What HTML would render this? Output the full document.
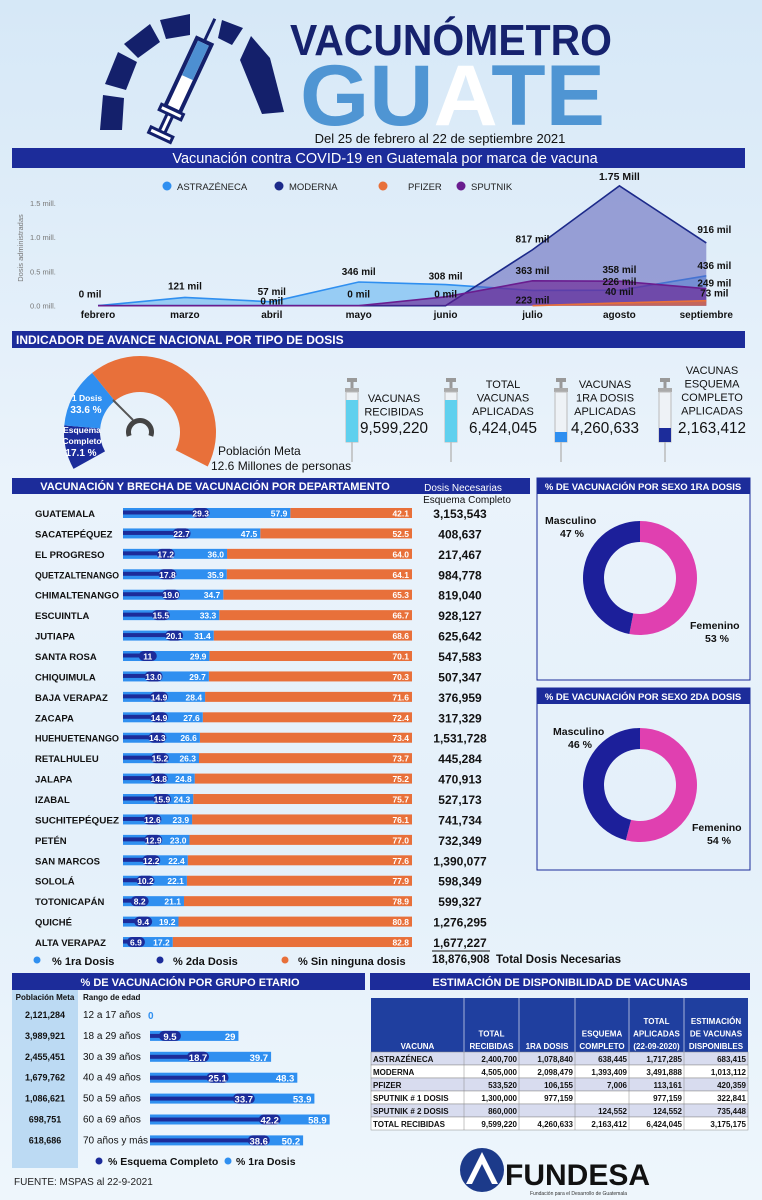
<!DOCTYPE html>
<html><head><meta charset="utf-8">
<style>
html,body{margin:0;padding:0;}
body{width:762px;height:1200px;overflow:hidden;background:linear-gradient(180deg,#d6e8f7 0%,#eaf3fb 40%,#e4f0fa 70%,#eef6fc 100%);font-family:"Liberation Sans",sans-serif;}
svg{display:block;}
svg text{font-family:"Liberation Sans",sans-serif;}
</style></head>
<body>
<svg id="main" width="762" height="1200" viewBox="0 0 762 1200" xmlns="http://www.w3.org/2000/svg">
<g>
  <g fill="#14206b">
    <path d="M100,130 L103,95 L124,98 L122,130 Z"/>
    <path d="M105,84 L118,52 L137,62 L126,90 Z"/>
    <path d="M124,44 L150,24 L160,42 L138,58 Z"/>
    <path d="M160,20 L190,14 L190,35 L166,39 Z"/>
    <path d="M222,20 L243,28 L232,45 L218,38 Z"/>
    <path d="M251,36 L270,58 L284,112 L262,114 L240,60 Z"/>
  </g>
  <g transform="translate(162,132) rotate(25)">
    <rect x="-8" y="-100" width="16" height="75" fill="#fff" stroke="#14206b" stroke-width="4"/>
    <rect x="-6" y="-98" width="12" height="38" fill="#4d8fd1"/>
    <rect x="-12" y="-25" width="24" height="6" fill="#fff" stroke="#14206b" stroke-width="3"/>
    <rect x="-3" y="-19" width="6" height="20" fill="#fff" stroke="#14206b" stroke-width="3"/>
    <rect x="-12" y="0" width="24" height="6" fill="#fff" stroke="#14206b" stroke-width="3"/>
    <line x1="0" y1="-100" x2="0" y2="-125" stroke="#14206b" stroke-width="3"/>
  </g>
</g>
<text x="290" y="55" font-size="44" font-weight="bold" fill="#16226e" textLength="322" lengthAdjust="spacingAndGlyphs">VACUNÓMETRO</text>
<text x="300" y="125" font-size="86" font-weight="bold" textLength="305" lengthAdjust="spacingAndGlyphs"><tspan fill="#4f95d3">GU</tspan><tspan fill="#ffffff">A</tspan><tspan fill="#4f95d3">TE</tspan></text>
<text x="440" y="143" font-size="13" text-anchor="middle" fill="#111">Del 25 de febrero al 22 de septiembre 2021</text>
<rect x="12" y="148" width="733" height="20" fill="#1c2c9a"/>
<text x="385" y="163" font-size="14.5" fill="#fff" text-anchor="middle">Vacunación contra COVID-19 en Guatemala por marca de vacuna</text>

<g id="areaChart"></g>

<rect x="12" y="331" width="733" height="17" fill="#1c2c9a"/>
<text x="16" y="344" font-size="12" font-weight="bold" fill="#fff">INDICADOR DE AVANCE NACIONAL POR TIPO DE DOSIS</text>
<g id="gauge"></g>
<text x="218" y="455" font-size="12" fill="#111">Población Meta</text>
<text x="211" y="470" font-size="12" fill="#111">12.6 Millones de personas</text>
<g id="kpis"></g>

<rect x="12" y="478" width="518" height="16" fill="#1c2c9a"/>
<text x="215" y="490" font-size="11" font-weight="bold" fill="#fff" text-anchor="middle">VACUNACIÓN Y BRECHA DE VACUNACIÓN POR DEPARTAMENTO</text>
<text x="463" y="491" font-size="10" fill="#fff" text-anchor="middle">Dosis Necesarias</text>
<text x="467" y="503" font-size="10" fill="#111" text-anchor="middle">Esquema Completo</text>
<g id="dept"></g>
<g>
  <circle cx="37" cy="960" r="3.5" fill="#2f8ff0"/><text x="52" y="965" font-size="11" font-weight="bold" fill="#111">% 1ra Dosis</text>
  <circle cx="160" cy="960" r="3.5" fill="#1c2c9a"/><text x="173" y="965" font-size="11" font-weight="bold" fill="#111">% 2da Dosis</text>
  <circle cx="285" cy="960" r="3.5" fill="#e8703a"/><text x="298" y="965" font-size="11" font-weight="bold" fill="#111">% Sin ninguna dosis</text>
  <line x1="432" y1="951" x2="490" y2="951" stroke="#111" stroke-width="1"/>
  <text x="432" y="963" font-size="11.5" font-weight="bold" fill="#111">18,876,908</text>
  <text x="496" y="963" font-size="11.5" font-weight="bold" fill="#111">Total Dosis Necesarias</text>
</g>
<g id="sex"></g>

<rect x="12" y="973" width="353" height="17" fill="#1c2c9a"/>
<text x="190" y="986" font-size="11" font-weight="bold" fill="#fff" text-anchor="middle">% DE VACUNACIÓN POR GRUPO ETARIO</text>
<rect x="370" y="973" width="380" height="17" fill="#1c2c9a"/>
<text x="560" y="986" font-size="11" font-weight="bold" fill="#fff" text-anchor="middle">ESTIMACIÓN DE DISPONIBILIDAD DE VACUNAS</text>
<rect x="12" y="990" width="66" height="178" fill="#bcdaf3"/>
<text x="45" y="1000" font-size="8" font-weight="bold" fill="#111" text-anchor="middle">Población Meta</text>
<text x="83" y="1000" font-size="8" font-weight="bold" fill="#111">Rango de edad</text>
<g id="age"></g>
<g>
  <circle cx="99" cy="1161" r="3.5" fill="#1c2c9a"/><text x="108" y="1165" font-size="10.5" font-weight="bold" fill="#111">% Esquema Completo</text>
  <circle cx="228" cy="1161" r="3.5" fill="#2f8ff0"/><text x="236" y="1165" font-size="10.5" font-weight="bold" fill="#111">% 1ra Dosis</text>
</g>
<text x="14" y="1185" font-size="10" fill="#222">FUENTE: MSPAS al 22-9-2021</text>
<g id="table"></g>
<g>
  <circle cx="482" cy="1170" r="22" fill="#1c3a8a"/>
  <path d="M466,1184 L482,1152 L498,1184 L492,1184 L482,1164 L472,1184 Z" fill="#fff"/>
  <text x="505" y="1185" font-size="30" font-weight="bold" fill="#111">FUNDESA</text>
  <text x="530" y="1195" font-size="5" fill="#333">Fundación para el Desarrollo de Guatemala</text>
</g>
</svg>
<script>
const NS='http://www.w3.org/2000/svg';
function mk(parent,tag,attrs,txt){const e=document.createElementNS(NS,tag);for(const k in attrs)e.setAttribute(k,attrs[k]);if(txt!==undefined)e.textContent=txt;parent.appendChild(e);return e;}

const months=['febrero','marzo','abril','mayo','junio','julio','agosto','septiembre'];
const astra=[0,121,57,346,308,223,226,436];
const moderna=[0,0,0,0,0,817,1750,916];
const pfizer=[null,null,null,null,null,0,40,73];
const sputnik=[0,0,0,0,130,363,358,249];
const yTicks=[0,0.5,1.0,1.5];
const yTickLabels=['0.0 mill.','0.5 mill.','1.0 mill.','1.5 mill.'];
const ptLabels=[[0,0,'0 mil',-8],[1,121,'121 mil',-8],[2,57,'57 mil',-7],[2,0,'0 mil',-1],[3,346,'346 mil',-7],[3,0,'0 mil',-8],
 [4,308,'308 mil',-5],[4,0,'0 mil',-8],[5,817,'817 mil',-7],[5,363,'363 mil',-7],[5,223,'223 mil',13],[6,358,'358 mil',-8],
 [6,226,'226 mil',-5],[6,40,'40 mil',-8],[7,916,'916 mil',-10],[7,436,'436 mil',-7],[7,249,'249 mil',-2],[7,73,'73 mil',-4]];

const ax=i=>98+i*86.9;
const ay=k=>305.7-k/1000*68.5;
const ac=document.getElementById('areaChart');
yTicks.forEach((t,i)=>{const tl=mk(ac,'text',{x:30,y:ay(t*1000)+3,'font-size':7.5,fill:'#777'},yTickLabels[i]);

});
const yt=mk(ac,'text',{x:0,y:0,'font-size':7.5,fill:'#777','text-anchor':'middle',transform:'translate(23,248) rotate(-90)'},'Dosis administradas');


months.forEach((m,i)=>{const t=mk(ac,'text',{x:ax(i),y:318,'font-size':10,'font-weight':'bold',fill:'#111','text-anchor':'middle'},m);

});
function area(vals,fill,stroke,name,op){
  const idx=vals.map((v,i)=>v===null?null:i).filter(v=>v!==null);
  let d='M'+ax(idx[0])+','+ay(0);idx.forEach(i=>d+=' L'+ax(i)+','+ay(vals[i]));d+=' L'+ax(idx[idx.length-1])+','+ay(0)+' Z';
  const a=mk(ac,'path',{d:d,fill:fill,'fill-opacity':op});
  
  
  let l='';idx.forEach((i,j)=>l+=(j?' L':'M')+ax(i)+','+ay(vals[i]));
  const p=mk(ac,'path',{d:l,fill:'none',stroke:stroke,'stroke-width':1.6});
  
  
}
area(astra,'#5aaef0','#2f8ff0','astrazeneca',0.55);
area(moderna,'#5a5cb8','#1c2a8a','moderna',0.55);
area(sputnik,'#6a1d8f','#6a1d8f','sputnik',0.6);
area(pfizer,'#e8703a','#e8703a','pfizer',0.7);
ptLabels.forEach(p=>{const t=mk(ac,'text',{x:ax(p[0])+(p[0]===0?-8:p[0]===7?8:0),y:ay(p[1])+p[3],'font-size':10,'font-weight':'bold',fill:'#111','text-anchor':'middle'},p[2]);

});
const pk=mk(ac,'text',{x:ax(6),y:ay(1750)-6,'font-size':10.5,'font-weight':'bold',fill:'#111','text-anchor':'middle'},'1.75 Mill');


const legItems=[['ASTRAZÉNECA','#2f8ff0',167],['MODERNA','#1c2a8a',279],['PFIZER','#e8703a',383],['SPUTNIK','#6a1d8f',461]];
legItems.forEach(l=>{const g=mk(ac,'g',{});


mk(g,'circle',{cx:l[2],cy:186,r:4.5,fill:l[1]});mk(g,'text',{x:l[2]+10+(l[0]==='PFIZER'?15:0),y:190,'font-size':9.5,fill:'#222'},l[0]);});

const gaugeSegments=[[151,185,'#1c2c9a'],[185,231,'#2f8ff0'],[231,387,'#e8703a']];
const gg=document.getElementById('gauge');
const gcx=140,gcy=432,ro=76,ri=40;
function arcPath(a0,a1,r1,r2,cx,cy){const R=Math.PI/180;const p=(r,a)=>[cx+r*Math.cos(a*R),cy+r*Math.sin(a*R)];
const lg=(a1-a0)>180?1:0;const A=p(r1,a0),B=p(r1,a1),C=p(r2,a1),D=p(r2,a0);
return `M${A} A${r1},${r1} 0 ${lg} 1 ${B} L${C} A${r2},${r2} 0 ${lg} 0 ${D} Z`;}
gaugeSegments.forEach(s=>{const p=mk(gg,'path',{d:arcPath(s[0],s[1],ro,ri,gcx,gcy),fill:s[2]});

});
mk(gg,'line',{x1:113,y1:400,x2:133,y2:420,stroke:'#555','stroke-width':2});
mk(gg,'path',{d:arcPath(160,380,14,9,gcx,gcy),fill:'#444'});
mk(gg,'text',{x:87,y:401,'font-size':8.5,'font-weight':'bold',fill:'#fff','text-anchor':'middle'},'1 Dosis');
mk(gg,'text',{x:86,y:413,'font-size':10,'font-weight':'bold',fill:'#fff','text-anchor':'middle'},'33.6 %');
mk(gg,'text',{x:82,y:433,'font-size':8.5,'font-weight':'bold',fill:'#fff','text-anchor':'middle'},'Esquema');
mk(gg,'text',{x:82,y:444,'font-size':8.5,'font-weight':'bold',fill:'#fff','text-anchor':'middle'},'Completo');
mk(gg,'text',{x:81,y:456,'font-size':10,'font-weight':'bold',fill:'#fff','text-anchor':'middle'},'17.1 %');

const kpiLabels=[['VACUNAS','RECIBIDAS'],['TOTAL','VACUNAS','APLICADAS'],['VACUNAS','1RA DOSIS','APLICADAS'],['VACUNAS','ESQUEMA','COMPLETO','APLICADAS']];
const kpiValues=['9,599,220','6,424,045','4,260,633','2,163,412'];
const kx=[352,451,561,665],tx=[394,503,605,712];
const kg=document.getElementById('kpis');
kpiLabels.forEach((lab,i)=>{const g=mk(kg,'g',{});


const fillCol=i<2?'#5fd0ee':(i===2?'#2f8ff0':'#1c2c9a');const fh=i<2?42:(i===2?10:14);
mk(g,'rect',{x:kx[i]-5,y:378,width:10,height:4,fill:'#999'});
mk(g,'rect',{x:kx[i]-1.5,y:382,width:3,height:6,fill:'#999'});
mk(g,'rect',{x:kx[i]-7,y:388,width:14,height:4,fill:'#aaa'});
mk(g,'rect',{x:kx[i]-6,y:392,width:12,height:50,fill:'#eef2f6',stroke:'#bbb','stroke-width':1});
mk(g,'rect',{x:kx[i]-6,y:442-fh,width:12,height:fh,fill:fillCol});
mk(g,'line',{x1:kx[i],y1:442,x2:kx[i],y2:462,stroke:'#bbb','stroke-width':1.5});
const top=i===3?374:(lab.length===3?388:402);
lab.forEach((t,j)=>mk(g,'text',{x:tx[i],y:top+j*13.5,'font-size':11,fill:'#111','text-anchor':'middle'},t));
mk(g,'text',{x:tx[i],y:433,'font-size':16,fill:'#111','text-anchor':'middle',textLength:68,lengthAdjust:'spacingAndGlyphs'},kpiValues[i]);});

const depts=['GUATEMALA','SACATEPÉQUEZ','EL PROGRESO','QUETZALTENANGO','CHIMALTENANGO','ESCUINTLA','JUTIAPA','SANTA ROSA','CHIQUIMULA','BAJA VERAPAZ','ZACAPA','HUEHUETENANGO','RETALHULEU','JALAPA','IZABAL','SUCHITEPÉQUEZ','PETÉN','SAN MARCOS','SOLOLÁ','TOTONICAPÁN','QUICHÉ','ALTA VERAPAZ'];
const dose2=[29.3,22.7,17.2,17.8,19.0,15.5,20.1,11,13.0,14.9,14.9,14.3,15.2,14.8,15.9,12.6,12.9,12.2,10.2,8.2,9.4,6.9];
const dose2Labels=['29.3','22.7','17.2','17.8','19.0','15.5','20.1','11','13.0','14.9','14.9','14.3','15.2','14.8','15.9','12.6','12.9','12.2','10.2','8.2','9.4','6.9'];
const dose1=[57.9,47.5,36.0,35.9,34.7,33.3,31.4,29.9,29.7,28.4,27.6,26.6,26.3,24.8,24.3,23.9,23.0,22.4,22.1,21.1,19.2,17.2];
const noDose=[42.1,52.5,64.0,64.1,65.3,66.7,68.6,70.1,70.3,71.6,72.4,73.4,73.7,75.2,75.7,76.1,77.0,77.6,77.9,78.9,80.8,82.8];
const needed=['3,153,543','408,637','217,467','984,778','819,040','928,127','625,642','547,583','507,347','376,959','317,329','1,531,728','445,284','470,913','527,173','741,734','732,349','1,390,077','598,349','599,327','1,276,295','1,677,227'];
const dg=document.getElementById('dept');
const bx0=123,bw=289,dx=p=>bx0+p/100*bw,ry=i=>513+i*20.43;
depts.forEach((d,i)=>{const y=ry(i);
const lt=mk(dg,'text',{x:35,y:y+4,'font-size':9.5,'font-weight':'bold',fill:'#111'},d);
if(d.length>=13) {lt.setAttribute('textLength','84');lt.setAttribute('lengthAdjust','spacingAndGlyphs');}
const o=mk(dg,'rect',{x:dx(dose1[i]),y:y-5,width:dx(100)-dx(100-noDose[i]),height:10,fill:'#e8703a'});


const b1=mk(dg,'rect',{x:bx0,y:y-5,width:dx(dose1[i])-bx0,height:10,fill:'#2f8ff0'});


const b2=mk(dg,'rect',{x:bx0,y:y-2.5,width:dx(dose2[i])-bx0,height:4,fill:'#1c2c9a'});


mk(dg,'rect',{x:dx(dose2[i])-16,y:y-5,width:18,height:10,rx:5,fill:'#1c2c9a'});
mk(dg,'text',{x:dx(dose2[i])-7,y:y+3.5,'font-size':8.5,'font-weight':'bold',fill:'#fff','text-anchor':'middle'},dose2Labels[i]);
mk(dg,'text',{x:dx(dose1[i])-3,y:y+3.5,'font-size':8.5,'font-weight':'bold',fill:'#fff','text-anchor':'end'},dose1[i].toFixed(1));
mk(dg,'text',{x:dx(100)-3,y:y+3.5,'font-size':8.5,'font-weight':'bold',fill:'#fff','text-anchor':'end'},noDose[i].toFixed(1));
mk(dg,'text',{x:460,y:y+5,'font-size':12,'font-weight':'bold',fill:'#111','text-anchor':'middle'},needed[i]);});

const sexTitles=['% DE VACUNACIÓN POR SEXO 1RA DOSIS','% DE VACUNACIÓN POR SEXO 2DA DOSIS'];
const male=[47,46];
const female=[53,54];
const sg=document.getElementById('sex');
const boxes=[[478,680,578],[688,870,785]];
boxes.forEach((b,k)=>{const g=mk(sg,'g',{});


mk(g,'rect',{x:537,y:b[0],width:213,height:b[1]-b[0],fill:'none',stroke:'#1c2c9a','stroke-width':1});
mk(g,'rect',{x:537,y:b[0],width:213,height:16,fill:'#1c2c9a'});
mk(g,'text',{x:643,y:b[0]+12,'font-size':9.5,'font-weight':'bold',fill:'#fff','text-anchor':'middle'},sexTitles[k]);
const cx=640,cy=b[2];const tot=male[k]+female[k];const fEnd=-90+female[k]/tot*360;
const fp=mk(g,'path',{d:arcPath(-90,fEnd,57,36,cx,cy),fill:'#e040b0'});


const mp=mk(g,'path',{d:arcPath(fEnd,270,57,36,cx,cy),fill:'#1c1f9a'});


const ml=k===0?[545,524]:[553,735];const fl=k===0?[690,629]:[692,831];
mk(g,'text',{x:ml[0],y:ml[1],'font-size':10.5,'font-weight':'bold',fill:'#111'},'Masculino');
mk(g,'text',{x:ml[0]+15,y:ml[1]+13,'font-size':10.5,'font-weight':'bold',fill:'#111'},male[k]+' %');
mk(g,'text',{x:fl[0],y:fl[1],'font-size':10.5,'font-weight':'bold',fill:'#111'},'Femenino');
mk(g,'text',{x:fl[0]+15,y:fl[1]+13,'font-size':10.5,'font-weight':'bold',fill:'#111'},female[k]+' %');});

const agePop=['2,121,284','3,989,921','2,455,451','1,679,762','1,086,621','698,751','618,686'];
const ageRanges=['12 a 17 años','18 a 29 años','30 a 39 años','40 a 49 años','50 a 59 años','60 a 69 años','70 años y más'];
const ageComplete=[0,9.5,18.7,25.1,33.7,42.2,38.6];
const ageFirst=[0,29,39.7,48.3,53.9,58.9,50.2];
const agg=document.getElementById('age');
const gx=p=>150+p*3.05,gy=i=>1015+i*20.9;
ageRanges.forEach((r,i)=>{const y=gy(i);
mk(agg,'text',{x:45,y:y+3,'font-size':9,'font-weight':'bold',fill:'#111','text-anchor':'middle'},agePop[i]);
mk(agg,'text',{x:83,y:y+3,'font-size':10,fill:'#111'},r);
if(ageFirst[i]===0){mk(agg,'text',{x:148,y:y+4,'font-size':10,'font-weight':'bold',fill:'#2f8ff0'},'0');return;}
const b1=mk(agg,'rect',{x:150,y:y-5,width:gx(ageFirst[i])-150,height:10,fill:'#2f8ff0'});


const b2=mk(agg,'rect',{x:150,y:y-2,width:gx(ageComplete[i])-150,height:4,fill:'#1c2c9a'});


mk(agg,'rect',{x:gx(ageComplete[i])-20,y:y-5,width:22,height:10,rx:5,fill:'#1c2c9a'});
mk(agg,'text',{x:gx(ageComplete[i])-9,y:y+4,'font-size':9.5,'font-weight':'bold',fill:'#fff','text-anchor':'middle'},ageComplete[i].toFixed(1));
mk(agg,'text',{x:gx(ageFirst[i])-3,y:y+4,'font-size':9.5,'font-weight':'bold',fill:'#fff','text-anchor':'end'},String(ageFirst[i]));});

const colX=[371,464,519,575,629,684,748];
const headers=[['VACUNA'],['TOTAL','RECIBIDAS'],['1RA DOSIS'],['ESQUEMA','COMPLETO'],['TOTAL','APLICADAS','(22-09-2020)'],['ESTIMACIÓN','DE VACUNAS','DISPONIBLES']];
const rows=[['ASTRAZÉNECA','2,400,700','1,078,840','638,445','1,717,285','683,415'],
['MODERNA','4,505,000','2,098,479','1,393,409','3,491,888','1,013,112'],
['PFIZER','533,520','106,155','7,006','113,161','420,359'],
['SPUTNIK # 1 DOSIS','1,300,000','977,159','','977,159','322,841'],
['SPUTNIK # 2 DOSIS','860,000','','124,552','124,552','735,448'],
['TOTAL RECIBIDAS','9,599,220','4,260,633','2,163,412','6,424,045','3,175,175']];
const tg=document.getElementById('table');
mk(tg,'rect',{x:371,y:998,width:377,height:54,fill:'#1f3f9f'});
headers.forEach((h,c)=>{const cx=(colX[c]+colX[c+1])/2;h.forEach((t,j)=>mk(tg,'text',{x:cx,y:1049-(h.length-1-j)*12.5,'font-size':8,'font-weight':'bold',fill:'#fff','text-anchor':'middle'},t));
if(c>0)mk(tg,'line',{x1:colX[c],y1:998,x2:colX[c],y2:1052,stroke:'#fff','stroke-width':0.6});});
rows.forEach((r,i)=>{const y=1052+i*13;
const bg=mk(tg,'rect',{x:371,y:y,width:377,height:13,fill:(i%2===0)?'#d8dcef':'#ffffff',stroke:'#888','stroke-width':0.5});


r.forEach((v,c)=>{if(c>0)mk(tg,'line',{x1:colX[c],y1:y,x2:colX[c],y2:y+13,stroke:'#888','stroke-width':0.5});
mk(tg,'text',c===0?{x:373,y:y+10,'font-size':8,'font-weight':'bold',fill:'#111'}:{x:colX[c+1]-2,y:y+10,'font-size':8,'font-weight':'bold',fill:'#111','text-anchor':'end'},v);});});
</script>
</body></html>
